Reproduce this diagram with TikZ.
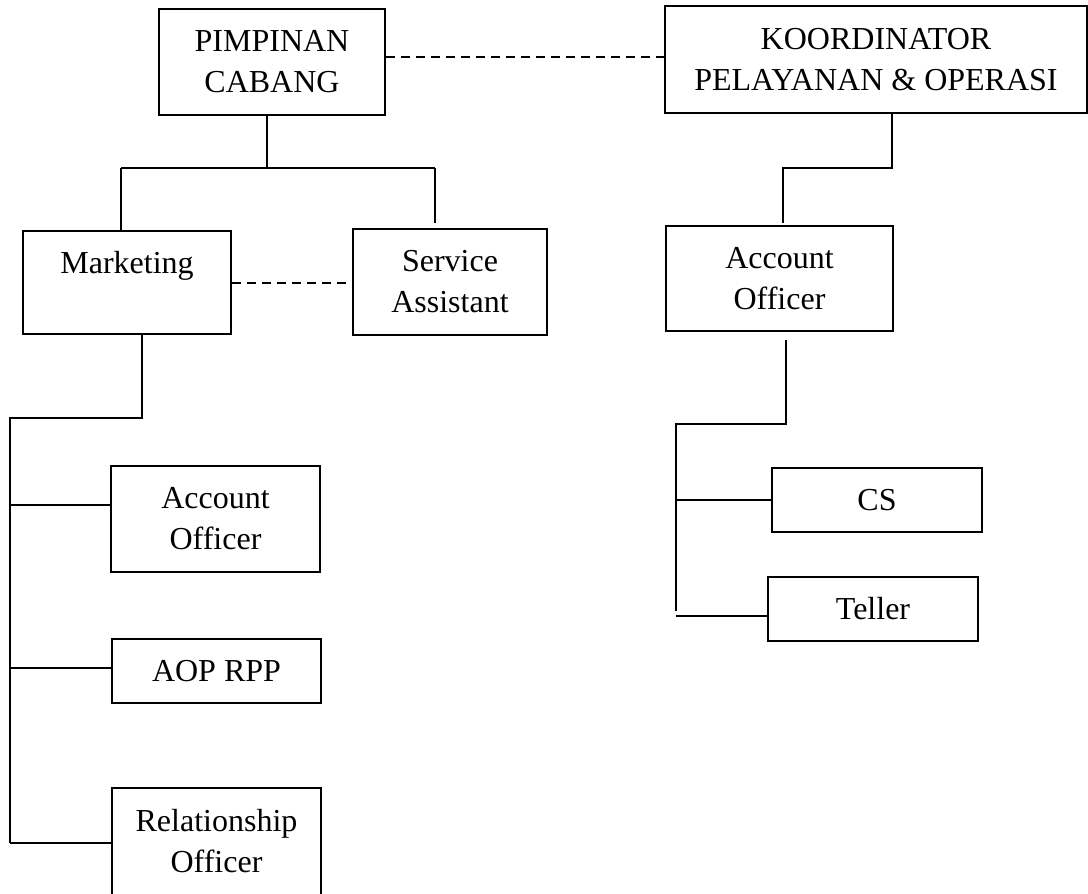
\documentclass[tikz,border=0pt]{standalone}
\usepackage{fontspec}
\setmainfont{Liberation Serif}
\begin{document}
\begin{tikzpicture}[x=1pt,y=-1pt,
  box/.style={draw, line width=1.8pt, inner sep=0pt, align=center,
    font=\fontsize{32}{41}\selectfont},
  link/.style={line width=1.8pt},
  dlink/.style={line width=1.8pt, dash pattern=on 9pt off 6pt}]
\useasboundingbox (0,0) rectangle (1088,894);
% boxes
\node[box, minimum width=226pt, minimum height=106pt] (PC) at (272,62) {PIMPINAN\\CABANG};
\node[box, minimum width=422pt, minimum height=107pt] (KPO) at (876,59.5) {KOORDINATOR\\PELAYANAN \& OPERASI};
\node[box, minimum width=208pt, minimum height=103pt] (MK) at (127,282.5) {Marketing\\\phantom{M}};
\node[box, minimum width=194pt, minimum height=106pt] (SA) at (450,282) {Service\\Assistant};
\node[box, minimum width=227pt, minimum height=105pt] (AO2) at (779.5,278.5) {Account\\Officer};
\node[box, minimum width=209pt, minimum height=106pt] (AO1) at (215.5,519) {Account\\Officer};
\node[box, minimum width=209pt, minimum height=64pt] (AOP) at (216.5,671) {AOP RPP};
\node[box, minimum width=209pt, minimum height=107pt] (RO) at (216.5,841.5) {Relationship\\Officer};
\node[box, minimum width=210pt, minimum height=64pt] (CS) at (877,500) {CS};
\node[box, minimum width=210pt, minimum height=64pt] (TL) at (873,609) {Teller};
% junction coordinates
\coordinate (dtop) at (0,57);
\coordinate (dmid) at (0,283);
\coordinate (pcj) at (267,168);
\coordinate (mkj) at (121,168);
\coordinate (saj) at (435,168);
\coordinate (saend) at (435,223);
\coordinate (kj1) at (892,168);
\coordinate (kj2) at (783,168);
\coordinate (kend) at (783,223);
\coordinate (mj) at (142,418);
\coordinate (ms) at (10,418);
\coordinate (mb) at (10,843);
\coordinate (b1) at (10,505);
\coordinate (b2) at (10,668);
\coordinate (b3) at (10,843);
\coordinate (astart) at (786,340);
\coordinate (aj) at (786,424);
\coordinate (as) at (676,424);
\coordinate (ab) at (676,611);
\coordinate (c1) at (676,500);
\coordinate (t1) at (676,616);
% dashed links
\draw[dlink] (PC.east |- dtop) -- (KPO.west |- dtop);
\draw[dlink] (MK.east |- dmid) -- (SA.west |- dmid);
% top left tree
\draw[link] (pcj |- PC.south) -- (pcj);
\draw[link] (mkj) -- (saj);
\draw[link] (mkj) -- (mkj |- MK.north);
\draw[link] (saj) -- (saend);
% top right
\draw[link] (kj1 |- KPO.south) -- (kj1) -- (kj2) -- (kend);
% marketing subtree
\draw[link] (mj |- MK.south) -- (mj) -- (ms) -- (mb);
\draw[link] (b1) -- (b1 -| AO1.west);
\draw[link] (b2) -- (b2 -| AOP.west);
\draw[link] (b3) -- (b3 -| RO.west);
% account officer subtree
\draw[link] (astart) -- (aj) -- (as) -- (ab);
\draw[link] (c1) -- (c1 -| CS.west);
\draw[link] (t1) -- (t1 -| TL.west);
\end{tikzpicture}
\end{document}
